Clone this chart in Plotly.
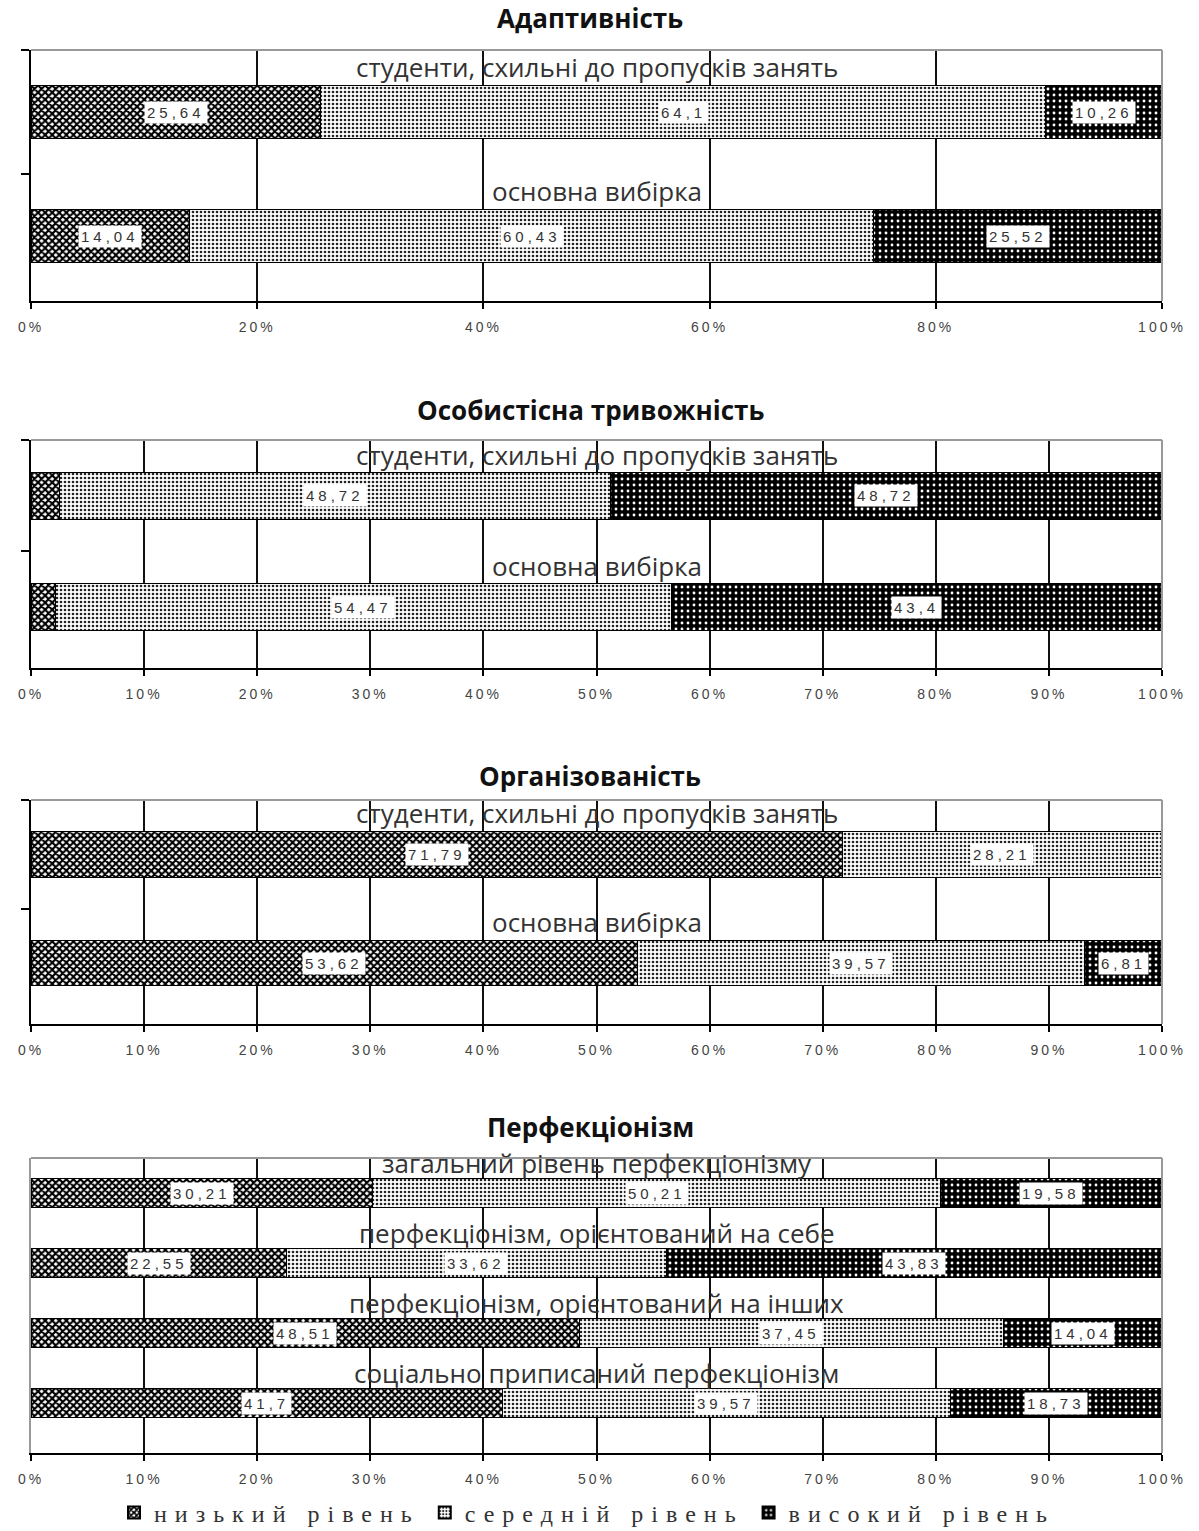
import plotly.graph_objects as go

# ---- data -------------------------------------------------------------
levels = ["низький рівень", "середній рівень", "високий рівень"]

titles = ["Адаптивність", "Особистісна тривожність", "Організованість", "Перфекціонізм"]

groups_students = ["студенти, схильні до пропусків занять", "основна вибірка"]
groups_perf = [
    "загальний рівень перфекціонізму",
    "перфекціонізм, орієнтований на себе",
    "перфекціонізм, орієнтований на інших",
    "соціально приписаний перфекціонізм",
]

adapt_low = [25.64, 14.04]
adapt_mid = [64.1, 60.43]
adapt_high = [10.26, 25.52]

anx_low = [2.56, 2.13]
anx_mid = [48.72, 54.47]
anx_high = [48.72, 43.4]

org_low = [71.79, 53.62]
org_mid = [28.21, 39.57]
org_high = [0, 6.81]

perf_low = [30.21, 22.55, 48.51, 41.7]
perf_mid = [50.21, 33.62, 37.45, 39.57]
perf_high = [19.58, 43.83, 14.04, 18.73]

ticks_20 = [0, 20, 40, 60, 80, 100]
ticks_10 = [0, 10, 20, 30, 40, 50, 60, 70, 80, 90, 100]

panels = [
    (titles[0], groups_students, [adapt_low, adapt_mid, adapt_high], ticks_20),
    (titles[1], groups_students, [anx_low, anx_mid, anx_high], ticks_10),
    (titles[2], groups_students, [org_low, org_mid, org_high], ticks_10),
    (titles[3], groups_perf, [perf_low, perf_mid, perf_high], ticks_10),
]

# ---- layout geometry (pixels of a 1199 x 1531 page) --------------------
W, H = 1199, 1531
x_left, x_right = 31, 1162
panel_px = [(50, 301), (440, 668), (800, 1024), (1158, 1453)]
title_px = [18, 410, 776, 1127]
label_shift = [45, 41, 41, 30]

patterns = [
    dict(color="white", pattern=dict(shape="x", fgcolor="black", bgcolor="white",
                                     size=5, solidity=0.65, fillmode="replace")),
    dict(color="white", pattern=dict(shape=".", fgcolor="#222", bgcolor="white",
                                     size=4, solidity=0.35, fillmode="replace")),
    dict(color="black", pattern=dict(shape=".", fgcolor="white", bgcolor="black",
                                     size=6, solidity=0.18, fillmode="replace")),
]

SPACED = '<span style="letter-spacing:{}px">{}</span>'

fig = go.Figure()
annotations = []
shapes = []

for p, (title, cats, series, ticks) in enumerate(panels):
    n = p + 1
    xa = "x" if n == 1 else f"x{n}"
    ya = "y" if n == 1 else f"y{n}"
    top, bottom = panel_px[p]

    for k, vals in enumerate(series):
        fig.add_trace(go.Bar(
            x=vals, y=cats, orientation="h",
            name=SPACED.format(8, levels[k]),
            legendgroup=levels[k], showlegend=(p == 0),
            marker=dict(line=dict(color="black", width=1), **patterns[k]),
            xaxis=xa, yaxis=ya, hoverinfo="x+y",
        ))

    # value labels centred on their segments
    for i, cat in enumerate(cats):
        start = 0.0
        for k, vals in enumerate(series):
            v = vals[i]
            if v >= 5:
                annotations.append(dict(
                    x=start + v / 2, y=cat, xref=xa, yref=ya,
                    text=SPACED.format(4, str(v).replace(".", ",")),
                    showarrow=False, bgcolor="white", borderpad=2,
                    font=dict(family="Liberation Sans, Arial", size=15, color="#333"),
                ))
            start += v
        # category caption above each bar
        annotations.append(dict(
            x=0.5, y=cat, xref=f"{xa} domain", yref=ya, yshift=label_shift[p],
            text=cat, showarrow=False,
            font=dict(family="Open Sans", size=26, color="#333"),
        ))

    # panel title
    annotations.append(dict(
        x=590 / W, y=1 - title_px[p] / H, xref="paper", yref="paper",
        text=f"<b>{title}</b>", showarrow=False, yanchor="middle",
        font=dict(family="Open Sans", size=26, color="#111"),
    ))

    # light frame on top and right
    shapes.append(dict(type="line", xref=f"{xa} domain", yref=f"{ya} domain",
                       x0=0, x1=1, y0=1, y1=1, line=dict(color="#999", width=2), layer="above"))
    shapes.append(dict(type="line", xref=f"{xa} domain", yref=f"{ya} domain",
                       x0=1, x1=1, y0=0, y1=1, line=dict(color="#999", width=2), layer="above"))

    left_col = "black" if p < 3 else "#999"
    fig.update_layout(**{
        ("xaxis" if n == 1 else f"xaxis{n}"): dict(
            domain=[x_left / W, x_right / W], anchor=ya, range=[0, 100],
            tickvals=ticks, ticktext=[SPACED.format(3, f"{t}%") for t in ticks],
            showgrid=True, gridcolor="#111", gridwidth=1.5, zeroline=False,
            showline=True, linecolor="black", linewidth=2,
            ticks="outside", ticklen=6, tickcolor="black", tickwidth=1.5,
            ticklabelstandoff=6, automargin=False,
            tickfont=dict(family="Liberation Sans, Arial", size=14, color="#444"),
            fixedrange=True,
        ),
        ("yaxis" if n == 1 else f"yaxis{n}"): dict(
            domain=[1 - bottom / H, 1 - top / H], anchor=xa, type="category",
            categoryorder="array", categoryarray=cats, autorange="reversed",
            showticklabels=False, showgrid=False, zeroline=False,
            showline=True, linecolor=left_col, linewidth=2,
            ticks="outside" if p < 3 else "", tickson="boundaries",
            ticklen=8, tickcolor="black", tickwidth=1.5, fixedrange=True,
            automargin=False,
        ),
    })

fig.update_layout(
    width=W, height=H,
    margin=dict(l=0, r=0, t=0, b=0, autoexpand=False),
    paper_bgcolor="white", plot_bgcolor="white",
    barmode="stack", bargap=0.58,
    annotations=annotations, shapes=shapes,
    showlegend=True,
    legend=dict(
        orientation="h", x=0.49, xanchor="center", y=1 - 1513 / H, yanchor="middle",
        font=dict(family="Liberation Serif", size=24, color="#333"),
        itemsizing="constant", traceorder="normal",
        bgcolor="rgba(0,0,0,0)",
    ),
)

fig.write_html("out.html")
